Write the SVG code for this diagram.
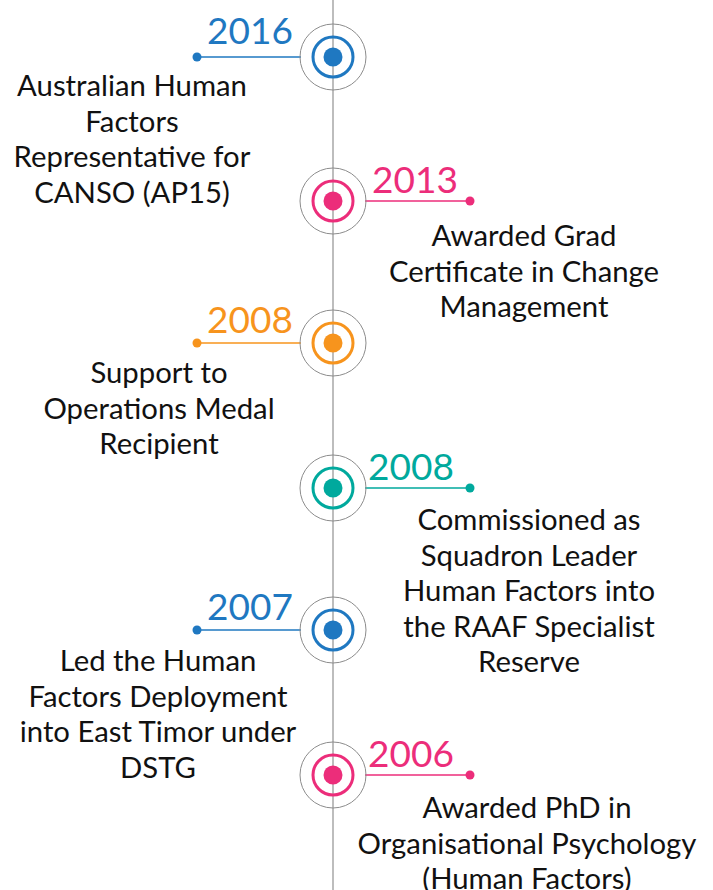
<svg xmlns="http://www.w3.org/2000/svg" width="713" height="890" viewBox="0 0 713 890">
<style>
.axis{stroke:#9a9a9a;stroke-width:1.3}
.outer{fill:none;stroke:#8c8c8c;stroke-width:1}
.ring{fill:none;stroke-width:3}
.yr{font-family:Lato,"Open Sans",sans-serif;font-size:37px}
.txt{font-family:Lato,"Open Sans",sans-serif;font-size:29.3px;fill:#111;text-anchor:middle}
</style>
<rect width="713" height="890" fill="#fff"/>
<g id="connectors">
<line class="axis" x1="333" y1="0" x2="333" y2="890"/>
<line x1="197" y1="57" x2="301" y2="57" stroke="#1f78c1" stroke-width="1.5"/>
<line x1="365" y1="201" x2="470" y2="201" stroke="#ec2d7a" stroke-width="1.5"/>
<line x1="197" y1="343" x2="301" y2="343" stroke="#f7941d" stroke-width="1.5"/>
<line x1="365" y1="488" x2="470" y2="488" stroke="#00a99d" stroke-width="1.5"/>
<line x1="197" y1="630" x2="301" y2="630" stroke="#1f78c1" stroke-width="1.5"/>
<line x1="365" y1="775" x2="470" y2="775" stroke="#ec2d7a" stroke-width="1.5"/>
</g>
<g id="node2016">
<circle class="outer" cx="333" cy="57" r="33"/>
<circle class="ring" cx="333" cy="57" r="20" style="stroke:#1f78c1"/>
<circle cx="333" cy="57" r="9.5" fill="#1f78c1"/>
<circle cx="197" cy="57" r="4.5" fill="#1f78c1"/>
<text class="yr" x="207" y="44" fill="#1f78c1">2016</text>
<text class="txt" x="132" y="96">Australian Human<tspan x="132" dy="35.5">Factors</tspan><tspan x="132" dy="35.5">Representative for</tspan><tspan x="132" dy="35.5">CANSO (AP15)</tspan></text>
</g>
<g id="node2013">
<circle class="outer" cx="333" cy="201" r="33"/>
<circle class="ring" cx="333" cy="201" r="20" style="stroke:#ec2d7a"/>
<circle cx="333" cy="201" r="9.5" fill="#ec2d7a"/>
<circle cx="470" cy="201" r="4.5" fill="#ec2d7a"/>
<text class="yr" x="372" y="193" fill="#ec2d7a">2013</text>
<text class="txt" x="524" y="246">Awarded Grad<tspan x="524" dy="35.5">Certificate in Change</tspan><tspan x="524" dy="35.5">Management</tspan></text>
</g>
<g id="node2008a">
<circle class="outer" cx="333" cy="343" r="33"/>
<circle class="ring" cx="333" cy="343" r="20" style="stroke:#f7941d"/>
<circle cx="333" cy="343" r="9.5" fill="#f7941d"/>
<circle cx="197" cy="343" r="4.5" fill="#f7941d"/>
<text class="yr" x="207" y="333" fill="#f7941d">2008</text>
<text class="txt" x="159" y="383">Support to<tspan x="159" dy="35.5">Operations Medal</tspan><tspan x="159" dy="35.5">Recipient</tspan></text>
</g>
<g id="node2008b">
<circle class="outer" cx="333" cy="488" r="33"/>
<circle class="ring" cx="333" cy="488" r="20" style="stroke:#00a99d"/>
<circle cx="333" cy="488" r="9.5" fill="#00a99d"/>
<circle cx="470" cy="488" r="4.5" fill="#00a99d"/>
<text class="yr" x="368" y="480" fill="#00a99d">2008</text>
<text class="txt" x="529" y="530">Commissioned as<tspan x="529" dy="35.5">Squadron Leader</tspan><tspan x="529" dy="35.5">Human Factors into</tspan><tspan x="529" dy="35.5">the RAAF Specialist</tspan><tspan x="529" dy="35.5">Reserve</tspan></text>
</g>
<g id="node2007">
<circle class="outer" cx="333" cy="630" r="33"/>
<circle class="ring" cx="333" cy="630" r="20" style="stroke:#1f78c1"/>
<circle cx="333" cy="630" r="9.5" fill="#1f78c1"/>
<circle cx="197" cy="630" r="4.5" fill="#1f78c1"/>
<text class="yr" x="207" y="620" fill="#1f78c1">2007</text>
<text class="txt" x="158" y="671">Led the Human<tspan x="158" dy="35.5">Factors Deployment</tspan><tspan x="158" dy="35.5">into East Timor under</tspan><tspan x="158" dy="35.5">DSTG</tspan></text>
</g>
<g id="node2006">
<circle class="outer" cx="333" cy="775" r="33"/>
<circle class="ring" cx="333" cy="775" r="20" style="stroke:#ec2d7a"/>
<circle cx="333" cy="775" r="9.5" fill="#ec2d7a"/>
<circle cx="470" cy="775" r="4.5" fill="#ec2d7a"/>
<text class="yr" x="368" y="767" fill="#ec2d7a">2006</text>
<text class="txt" x="527" y="818">Awarded PhD in<tspan x="527" dy="35.5">Organisational Psychology</tspan><tspan x="527" dy="35.5">(Human Factors)</tspan></text>
</g>
</svg>
